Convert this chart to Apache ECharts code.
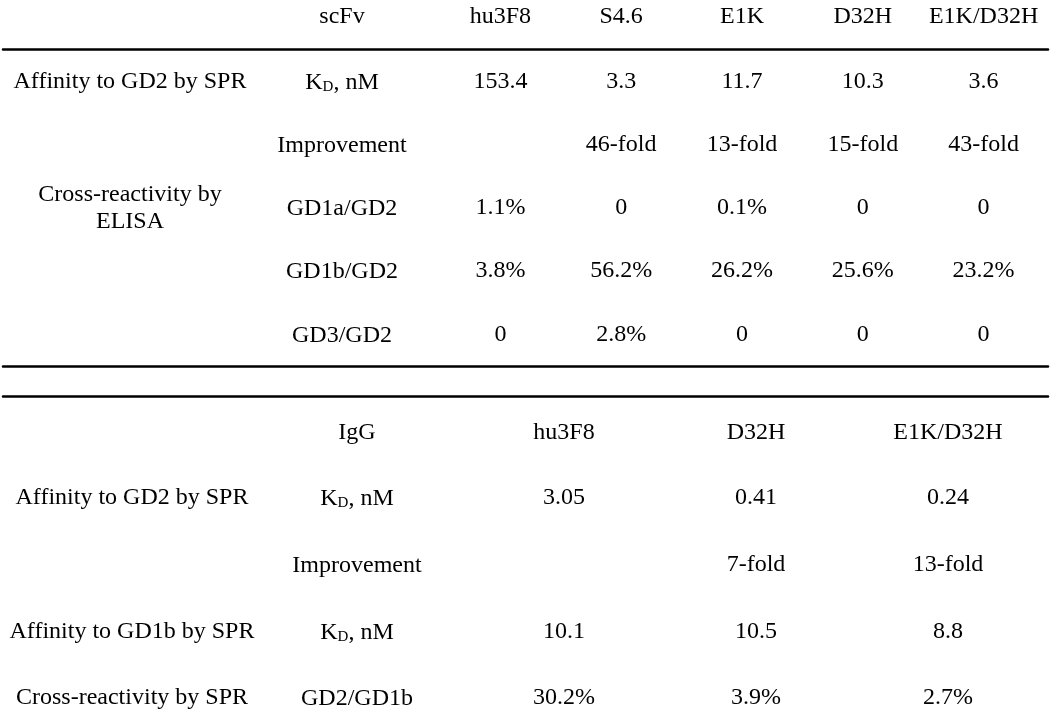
<!DOCTYPE html>
<html>
<head>
<meta charset="utf-8">
<script src="https://cdn.jsdelivr.net/npm/echarts@6/dist/echarts.min.js"></script>
<style>html,body{margin:0;padding:0;background:#fff}#c{width:1050px;height:712px}</style>
</head>
<body>
<div id="c"></div>
<script>
// ---- scFv table data ----
var scfvHeader = 'scFv';
var scfvColumns = ['hu3F8', 'S4.6', 'E1K', 'D32H', 'E1K/D32H'];
var scfvGroups = ['Affinity to GD2 by SPR', '', 'Cross-reactivity by\nELISA', '', ''];
var scfvParams = ['KD', 'Improvement', 'GD1a/GD2', 'GD1b/GD2', 'GD3/GD2'];
var scfvKd = [153.4, 3.3, 11.7, 10.3, 3.6];            // nM
var scfvImprovement = [null, 46, 13, 15, 43];           // fold
var scfvGD1a = [1.1, 0, 0.1, 0, 0];                     // %
var scfvGD1b = [3.8, 56.2, 26.2, 25.6, 23.2];           // %
var scfvGD3 = [0, 2.8, 0, 0, 0];                        // %

// ---- IgG table data ----
var iggHeader = 'IgG';
var iggColumns = ['hu3F8', 'D32H', 'E1K/D32H'];
var iggGroups = ['Affinity to GD2 by SPR', '', 'Affinity to GD1b by SPR', 'Cross-reactivity by SPR'];
var iggParams = ['KD', 'Improvement', 'KD', 'GD2/GD1b'];
var iggKdGD2 = ['3.05', '0.41', '0.24'];                // nM (kept as printed)
var iggImprovement = [null, 7, 13];                     // fold
var iggKdGD1b = [10.1, 10.5, 8.8];                      // nM
var iggCross = [30.2, 3.9, 2.7];                        // %

// ---- formatting helpers ----
function fmtNum(v) { return String(v); }
function fmtFold(v) { return v == null ? null : v + '-fold'; }
function fmtPct(v) { return v === 0 ? '0' : v + '%'; }

function rowsToCells(rows) {
  var cells = [];
  rows.forEach(function (r, ri) {
    r.values.forEach(function (v, ci) {
      var t = r.fmt(v);
      if (t != null) cells.push({ value: [ci, ri], text: t });
    });
  });
  return cells;
}

var scfvCells = rowsToCells([
  { values: scfvKd, fmt: fmtNum },
  { values: scfvImprovement, fmt: fmtFold },
  { values: scfvGD1a, fmt: fmtPct },
  { values: scfvGD1b, fmt: fmtPct },
  { values: scfvGD3, fmt: fmtPct }
]);
var iggCells = rowsToCells([
  { values: iggKdGD2, fmt: fmtNum },
  { values: iggImprovement, fmt: fmtFold },
  { values: iggKdGD1b, fmt: fmtNum },
  { values: iggCross, fmt: fmtPct }
]);

// ---- styles ----
var FONT = '"Liberation Serif", "Times New Roman", serif';
var FS = 24;
var INK = '#000';
var RULE = { show: true, onZero: false, lineStyle: { color: '#000', width: 2.5 } };
var textStyle = { fontFamily: FONT, fontSize: FS, color: INK };
var rich = {
  n: { fontFamily: FONT, fontSize: FS, color: INK, lineHeight: 26, verticalAlign: 'bottom' },
  sub: { fontFamily: FONT, fontSize: 15, color: INK, lineHeight: 15, verticalAlign: 'bottom' }
};
function paramFmt(v) {
  if (v === 'KD') return '{n|K}{sub|D}{n|, nM}';
  return '{n|' + v + '}';
}
function hiddenAxisBits() {
  return { axisTick: { show: false }, splitLine: { show: false } };
}
function gridBox(o) {
  return Object.assign({ containLabel: false, outerBoundsMode: 'none' }, o);
}
function cellSeries(xi, yi, cells) {
  return {
    type: 'scatter', xAxisIndex: xi, yAxisIndex: yi, silent: true,
    symbol: 'circle', symbolSize: 0,
    itemStyle: { color: '#fff', opacity: 1 },
    data: cells,
    labelLayout: { hideOverlap: false },
    label: {
      show: true, position: 'inside',
      fontFamily: FONT, fontSize: FS, color: INK, opacity: 1,
      textBorderWidth: 0, textShadowBlur: 0,
      formatter: function (p) { return p.data.text; }
    }
  };
}

var chart = echarts.init(document.getElementById('c'), null, { renderer: 'canvas' });

var option = {
  animation: false,
  backgroundColor: '#fff',
  grid: [
    // 0: scFv data columns
    gridBox({ left: 440, right: 6, top: 49.7, bottom: 712 - 366 }),
    // 1: IgG data columns
    gridBox({ left: 468, right: 6, top: 498, bottom: 712 - 698 }),
    // 2: scFv rules frame
    gridBox({ left: 3, right: 2, top: 49.7, bottom: 712 - 366 }),
    // 3: IgG rule frame
    gridBox({ left: 3, right: 2, top: 396.5, bottom: 10 })
  ],
  xAxis: [
    Object.assign({ type: 'category', gridIndex: 0, position: 'top', data: scfvColumns,
      axisLine: { show: false },
      axisLabel: Object.assign({ margin: 21, interval: 0 }, textStyle) }, hiddenAxisBits()),
    Object.assign({ type: 'category', gridIndex: 1, position: 'top', data: iggColumns,
      axisLine: { show: false },
      axisLabel: Object.assign({ margin: 53, interval: 0 }, textStyle) }, hiddenAxisBits()),
    Object.assign({ type: 'value', gridIndex: 2, position: 'top', min: 0, max: 1,
      axisLine: RULE, axisLabel: { show: false } }, hiddenAxisBits()),
    Object.assign({ type: 'value', gridIndex: 2, position: 'bottom', min: 0, max: 1,
      axisLine: RULE, axisLabel: { show: false } }, hiddenAxisBits()),
    Object.assign({ type: 'value', gridIndex: 3, position: 'top', min: 0, max: 1,
      axisLine: RULE, axisLabel: { show: false } }, hiddenAxisBits())
  ],
  yAxis: [
    // scFv parameter column (with header name)
    Object.assign({ type: 'category', gridIndex: 0, position: 'left', inverse: true, data: scfvParams,
      offset: 440 - 342, axisLine: { show: false },
      name: scfvHeader, nameLocation: 'start', nameGap: 21,
      nameTextStyle: textStyle,
      axisLabel: { margin: 0, align: 'center', interval: 0, formatter: paramFmt, rich: rich } }, hiddenAxisBits()),
    // scFv group column
    Object.assign({ type: 'category', gridIndex: 0, position: 'left', inverse: true, data: scfvGroups,
      offset: 440 - 130, axisLine: { show: false },
      axisLabel: Object.assign({ margin: 0, align: 'center', interval: 0, lineHeight: 27 }, textStyle) }, hiddenAxisBits()),
    // IgG parameter column (with header name)
    Object.assign({ type: 'category', gridIndex: 1, position: 'left', inverse: true, boundaryGap: false, data: iggParams,
      offset: 468 - 357, axisLine: { show: false },
      name: iggHeader, nameLocation: 'start', nameGap: 53,
      nameTextStyle: textStyle,
      axisLabel: { margin: 0, align: 'center', interval: 0, formatter: paramFmt, rich: rich } }, hiddenAxisBits()),
    // IgG group column
    Object.assign({ type: 'category', gridIndex: 1, position: 'left', inverse: true, boundaryGap: false, data: iggGroups,
      offset: 468 - 132, axisLine: { show: false },
      axisLabel: Object.assign({ margin: 0, align: 'center', interval: 0 }, textStyle) }, hiddenAxisBits()),
    // frames
    { type: 'value', gridIndex: 2, show: false, min: 0, max: 1 },
    { type: 'value', gridIndex: 3, show: false, min: 0, max: 1 }
  ],
  series: [
    cellSeries(0, 0, scfvCells),
    cellSeries(1, 2, iggCells)
  ]
};
chart.setOption(option);
</script>
</body>
</html>
